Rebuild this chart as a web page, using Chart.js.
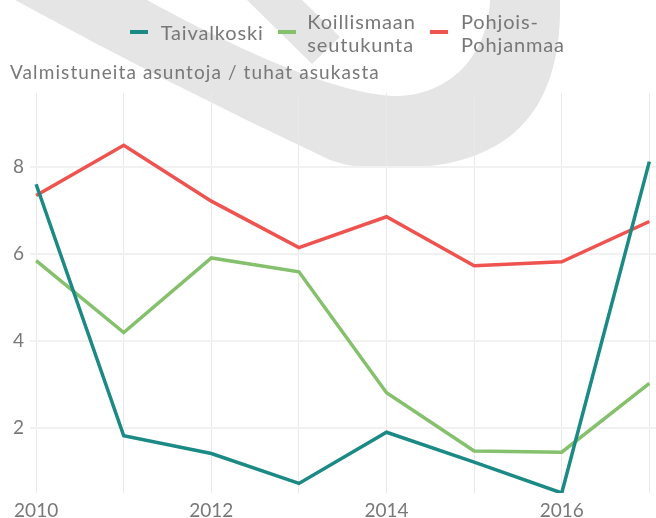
<!DOCTYPE html>
<html>
<head>
<meta charset="utf-8">
<script src="https://cdn.jsdelivr.net/npm/chart.js@4"></script>
<style>
html,body{margin:0;padding:0;background:#fff;}
#wrap{position:relative;width:656px;height:518px;overflow:hidden;font-family:Lato,"Open Sans",sans-serif;color:#787878;}
#c{position:absolute;left:0;top:0;}
.lg{position:absolute;font-size:20px;line-height:23.4px;white-space:nowrap;letter-spacing:0.85px;}
.mk{position:absolute;width:18px;height:4px;top:30.3px;}
#ytitle{position:absolute;left:10px;top:59.5px;font-size:19px;line-height:23px;white-space:nowrap;letter-spacing:1.1px;}
</style>
</head>
<body>
<div id="wrap">
<canvas id="c" width="656" height="518"></canvas>
<div class="mk" style="left:130px;background:#1b8a84"></div>
<div class="lg" style="left:160.7px;top:21.3px">Taivalkoski</div>
<div class="mk" style="left:277.7px;background:#85c06c"></div>
<div class="lg" style="left:307.3px;top:9.9px">Koillismaan<br>seutukunta</div>
<div class="mk" style="left:430px;background:#ee5350"></div>
<div class="lg" style="left:461px;top:9.9px">Pohjois-<br>Pohjanmaa</div>
<div id="ytitle">Valmistuneita asuntoja / tuhat asukasta</div>
</div>
<script>
const years = [2010, 2011, 2012, 2013, 2014, 2015, 2016, 2017];
const taivalkoski = [7.61, 1.81, 1.40, 0.71, 1.89, 1.20, 0.49, 8.13];
const koillismaa = [5.85, 4.19, 5.91, 5.59, 2.80, 1.46, 1.43, 3.02];
const pohjoisPohjanmaa = [7.35, 8.51, 7.22, 6.15, 6.86, 5.73, 5.82, 6.75];
const seriesNames = ['Taivalkoski', 'Koillismaan seutukunta', 'Pohjois-Pohjanmaa'];
const yTicks = [2, 4, 6, 8];
const xTickLabels = [2010, 2012, 2014, 2016];

const watermark = {
  id: 'watermark',
  beforeDraw(chart) {
    const ctx = chart.ctx;
    ctx.save();
    ctx.fillStyle = '#e5e5e5';
    ctx.beginPath();
    ctx.moveTo(15, 0);
    ctx.quadraticCurveTo(170, 85, 330, 160);
    ctx.bezierCurveTo(350, 167, 365, 168, 395, 168);
    ctx.bezierCurveTo(490, 168, 563, 130, 560, 0);
    ctx.lineTo(490, 0);
    ctx.bezierCurveTo(488, 55, 450, 96, 395, 96);
    ctx.bezierCurveTo(330, 94, 220, 40, 147, 0);
    ctx.closePath();
    ctx.fill();
    ctx.beginPath();
    ctx.moveTo(247, 0);
    ctx.lineTo(302, 0);
    ctx.lineTo(340, 37);
    ctx.lineTo(312, 64);
    ctx.closePath();
    ctx.fill();
    ctx.restore();
  }
};

const toPts = arr => years.map((yr, i) => ({ x: yr, y: arr[i] }));
const tickFont = { family: 'Lato', size: 19 };

new Chart(document.getElementById('c'), {
  type: 'line',
  data: {
    datasets: [
      { label: seriesNames[0], data: toPts(taivalkoski), borderColor: '#1b8a84', borderWidth: 3.5, pointRadius: 0, tension: 0, fill: false },
      { label: seriesNames[1], data: toPts(koillismaa), borderColor: '#85c06c', borderWidth: 3.5, pointRadius: 0, tension: 0, fill: false },
      { label: seriesNames[2], data: toPts(pohjoisPohjanmaa), borderColor: '#ee5350', borderWidth: 3.5, pointRadius: 0, tension: 0, fill: false }
    ]
  },
  options: {
    responsive: false,
    animation: false,
    layout: { padding: { top: 93, left: 0, right: 0, bottom: 0 } },
    plugins: { legend: { display: false }, tooltip: { enabled: false }, title: { display: false } },
    scales: {
      x: {
        type: 'linear',
        min: 2009.93,
        max: 2017.076,
        afterBuildTicks: s => { s.ticks = years.map(v => ({ value: v })); },
        afterFit: s => { s.height = 25; },
        grid: { color: '#e9e9e9', lineWidth: 1, drawTicks: false },
        border: { display: false },
        ticks: {
          padding: 6, font: tickFont, color: '#787878', maxRotation: 0, autoSkip: false,
          callback: v => xTickLabels.includes(v) ? String(v) : ''
        }
      },
      y: {
        min: 0.49,
        max: 9.713,
        afterBuildTicks: s => { s.ticks = yTicks.map(v => ({ value: v })); },
        afterFit: s => { s.width = 30; },
        grid: { color: '#f1f1f1', lineWidth: 2, drawTicks: false },
        border: { display: false },
        ticks: { padding: 6, font: tickFont, color: '#787878', callback: v => String(v) }
      }
    }
  },
  plugins: [watermark]
});
</script>
</body>
</html>
